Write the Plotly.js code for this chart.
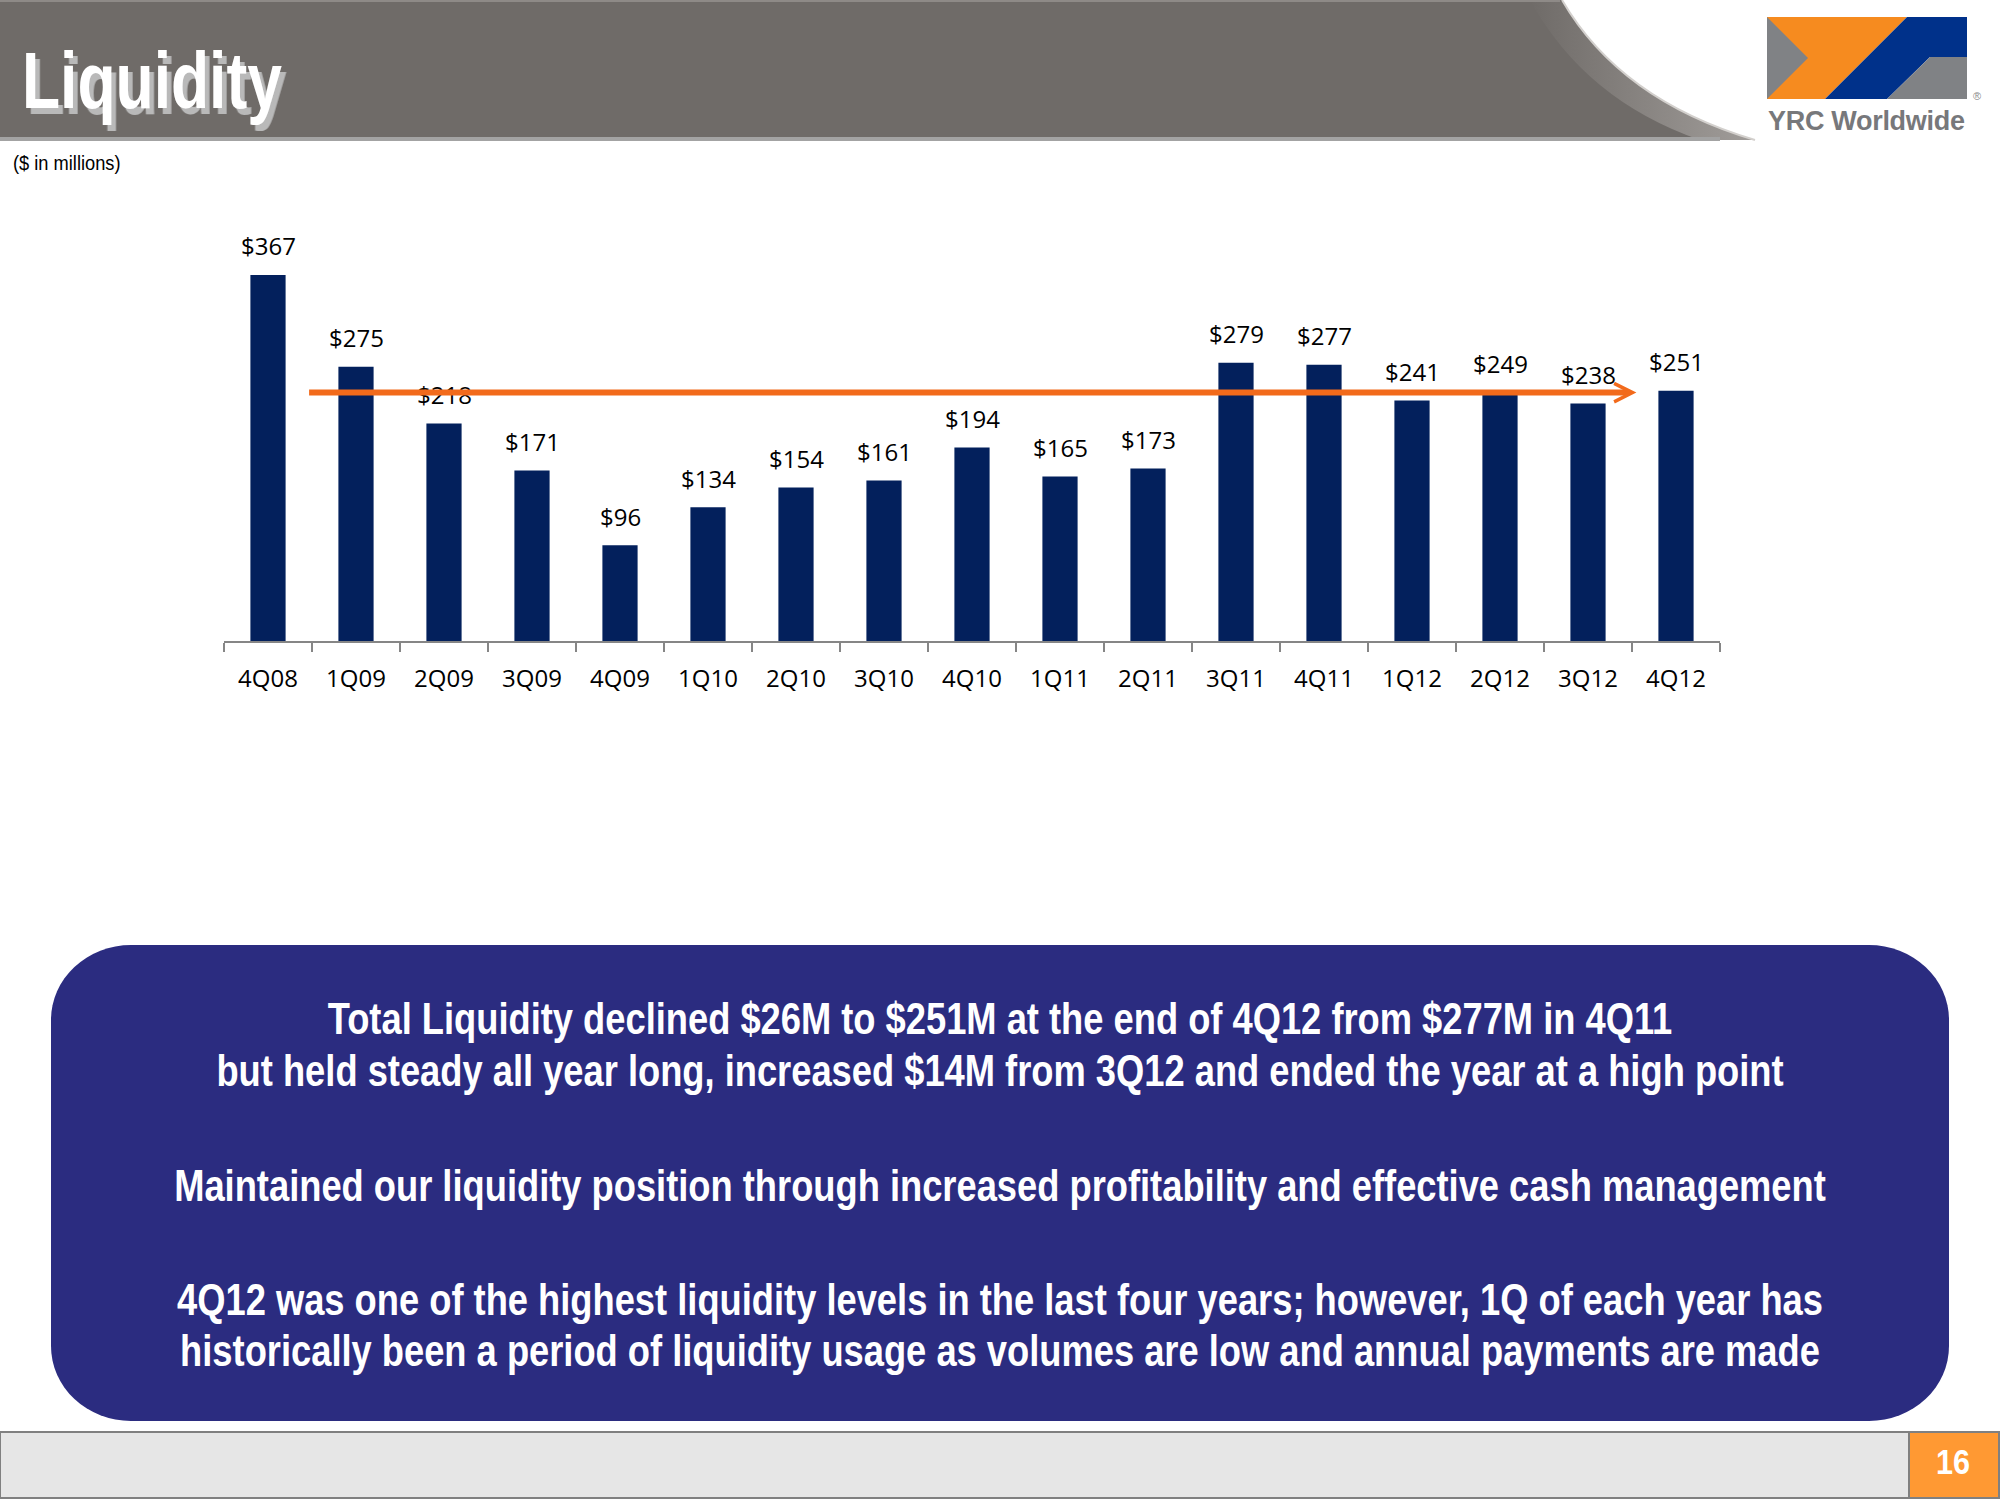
<!DOCTYPE html>
<html>
<head>
<meta charset="utf-8">
<script src="https://cdn.plot.ly/plotly-3.0.1.min.js"></script>
<style>
  html, body { margin: 0; padding: 0; background: #ffffff; }
  #wrap { position: relative; width: 2000px; height: 1500px; overflow: hidden; }
  #deco { position: absolute; left: 0; top: 0; z-index: 0; }
  #chart { position: absolute; left: 0; top: 150px; width: 2000px; height: 600px; z-index: 1; }
</style>
</head>
<body>
<div id="wrap">
<svg id="deco" width="2000" height="1500" xmlns="http://www.w3.org/2000/svg">
  <defs>
    <filter id="shadow" x="-10%" y="-10%" width="130%" height="140%">
      <feDropShadow dx="6" dy="6" stdDeviation="0" flood-color="#b9b9b9" flood-opacity="1"/>
    </filter>
    <linearGradient id="swoosh" x1="0" y1="0" x2="1" y2="0">
      <stop offset="0" stop-color="#6f6b68"/>
      <stop offset="1" stop-color="#a19d9a"/>
    </linearGradient>
  </defs>
  <!-- header band -->
  <path d="M0,0 H1562 Q1620,100 1755,140 H0 Z" fill="#6f6b68"/>
  <path d="M1530,0 H1562 Q1620,100 1755,140 H1700 Q1585,100 1530,0 Z" fill="url(#swoosh)"/>
  <path d="M1562,0 Q1620,100 1755,140" stroke="#d3d0cd" stroke-width="2" fill="none"/>
  <rect x="0" y="0" width="1560" height="2" fill="#8e8a87"/>
  <rect x="0" y="137" width="1720" height="4" fill="#a3a3a3"/>
  <!-- title with shadow -->
  <text transform="translate(22,108) scale(0.78,1)" filter="url(#shadow)" font-family="'Liberation Sans', Arial, sans-serif" font-weight="bold" font-size="80" fill="#ffffff">Liquidity</text>
  <!-- logo -->
  <polygon points="1767,17 1907,17 1825,99 1767,99" fill="#f68b1f"/>
  <polygon points="1767,17 1808,58 1767,99" fill="#808285"/>
  <polygon points="1907,17 1967,17 1967,57 1930,57 1887,99 1825,99" fill="#00318a"/>
  <polygon points="1930,57 1967,57 1967,99 1887,99" fill="#808285"/>
  <text x="1768" y="130" font-family="'Liberation Sans', Arial, sans-serif" font-weight="bold" font-size="27" fill="#77787b" letter-spacing="-0.3">YRC Worldwide</text>
  <text x="1973" y="100" font-family="'Liberation Sans', Arial, sans-serif" font-size="11" fill="#8a8a8a">®</text>
  <!-- units -->
  <text transform="translate(13,170) scale(0.87,1)" font-family="'Liberation Sans', Arial, sans-serif" font-size="21" fill="#000000">($ in millions)</text>
  <!-- bottom message box -->
  <rect x="51" y="945" width="1898" height="476" rx="80" ry="75" fill="#2b2c80"/>
  <g font-family="'Liberation Sans', Arial, sans-serif" font-weight="bold" font-size="44" fill="#ffffff" text-anchor="middle">
    <text transform="translate(1000,1034) scale(0.825,1)">Total Liquidity declined $26M to $251M at the end of 4Q12 from $277M in 4Q11</text>
    <text transform="translate(1000,1086) scale(0.825,1)">but held steady all year long, increased $14M from 3Q12 and ended the year at a high point</text>
    <text transform="translate(1000,1201) scale(0.825,1)">Maintained our liquidity position through increased profitability and effective cash management</text>
    <text transform="translate(1000,1315) scale(0.825,1)">4Q12 was one of the highest liquidity levels in the last four years; however, 1Q of each year has</text>
    <text transform="translate(1000,1366) scale(0.825,1)">historically been a period of liquidity usage as volumes are low and annual payments are made</text>
  </g>
  <!-- footer -->
  <rect x="0" y="1432" width="1909" height="66" fill="#e6e6e6" stroke="#808080" stroke-width="2"/>
  <rect x="1909" y="1432" width="90" height="66" fill="#ff9933" stroke="#808080" stroke-width="2"/>
  <text transform="translate(1953,1474) scale(0.85,1)" font-family="'Liberation Sans', Arial, sans-serif" font-weight="bold" font-size="36" fill="#ffffff" text-anchor="middle">16</text>
</svg>
<div id="chart"></div>
</div>
<script>
// ---- data ----
var quarters = ["4Q08","1Q09","2Q09","3Q09","4Q09","1Q10","2Q10","3Q10","4Q10","1Q11","2Q11","3Q11","4Q11","1Q12","2Q12","3Q12","4Q12"];
var liquidity = [367, 275, 218, 171, 96, 134, 154, 161, 194, 165, 173, 279, 277, 241, 249, 238, 251];
var valueLabels = liquidity.map(function (v) { return "$" + v; });

// ---- styling ----
var barColor = "#03205c";
var arrowColor = "#f26a1b";
var labelFont = { family: "'Open Sans', 'Noto Sans', sans-serif", size: 24, color: "#000000" };

var traces = [{
  type: "bar",
  x: quarters,
  y: liquidity,
  marker: { color: barColor, line: { width: 0 } },
  hoverinfo: "skip"
}];

var annotations = quarters.map(function (q, i) {
  return {
    x: q, y: liquidity[i], xref: "x", yref: "y",
    text: valueLabels[i], showarrow: false,
    yanchor: "middle", xanchor: "center", yshift: 29,
    font: labelFont
  };
});

// trend arrow, drawn just under the latest quarter's level
annotations.push({
  xref: "x", yref: "y", axref: "x", ayref: "y",
  x: 15.55, y: 249,
  ax: 0.45, ay: 249,
  text: "", showarrow: true,
  arrowhead: 5, arrowsize: 0.6, arrowwidth: 6, arrowcolor: arrowColor,
  standoff: 0, startstandoff: 0
});

var layout = {
  width: 2000, height: 600,
  margin: { l: 224, r: 280, t: 92, b: 109, pad: 0 },
  paper_bgcolor: "rgba(0,0,0,0)",
  plot_bgcolor: "rgba(0,0,0,0)",
  showlegend: false,
  bargap: 0.6,
  xaxis: {
    type: "category",
    categoryorder: "array", categoryarray: quarters,
    showline: true, linecolor: "#868686", linewidth: 2,
    ticks: "outside", tickson: "boundaries", ticklen: 9, tickwidth: 2, tickcolor: "#868686",
    tickfont: labelFont, ticklabelstandoff: 15,
    showgrid: false, zeroline: false, fixedrange: true
  },
  yaxis: {
    range: [0, 400], visible: false, showgrid: false, zeroline: false, fixedrange: true
  },
  annotations: annotations
};

Plotly.newPlot("chart", traces, layout, { displayModeBar: false, staticPlot: true });
</script>
</body>
</html>
